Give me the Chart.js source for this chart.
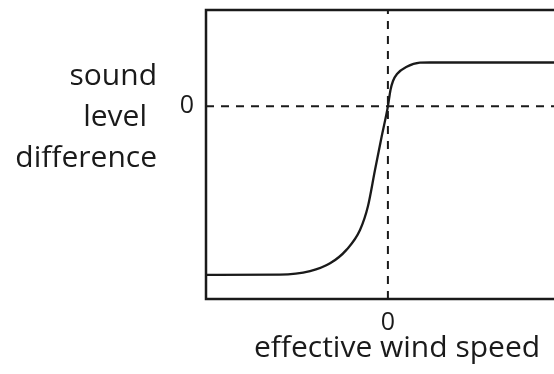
<!DOCTYPE html>
<html>
<head>
<meta charset="utf-8">
<script src="https://cdn.jsdelivr.net/npm/chart.js@4.4.1/dist/chart.umd.min.js"></script>
<style>
  html, body { margin: 0; padding: 0; background: #fff; overflow: hidden; }
  #c { display: block; }
</style>
</head>
<body>
<canvas id="c" width="620" height="374"></canvas>
<script>
// Response curve: sound level difference against effective wind speed
const windSpeed = [-5, -2.97, -2.14, -1.59, -1.14, -0.767, -0.547, -0.355, -0.17, 0, 0.071, 0.14, 0.25, 0.517, 0.88, 1.155, 5.5];
const levelDiff = [-1.75, -1.747, -1.71, -1.63, -1.49, -1.284, -1.035, -0.661, -0.31, 0, 0.169, 0.263, 0.335, 0.411, 0.453, 0.455, 0.455];

// Axis ranges and the only labelled ticks
const xRange = [-5, 5.5];
const yRange = [-2, 1];
const xTicks = [0];
const yTicks = [0];

const xTitle = 'effective wind speed';
const yTitleLines = ['sound', 'level', 'difference'];

const INK = '#1a1a1a';
const FONT = '"Open Sans", sans-serif';

const curvePoints = windSpeed.map((x, i) => ({ x: x, y: levelDiff[i] }));
const zeroVertical = [{ x: xTicks[0], y: yRange[0] }, { x: xTicks[0], y: yRange[1] }];
const zeroHorizontal = [{ x: xRange[0], y: yTicks[0] }, { x: xRange[1], y: yTicks[0] }];

// Frame around the plot area and the hand-set axis titles
const framePlugin = {
  id: 'frame',
  afterDatasetsDraw(chart) {
    const { ctx, chartArea: a } = chart;
    ctx.save();
    ctx.strokeStyle = INK;
    ctx.lineWidth = 2.5;
    ctx.strokeRect(a.left, a.top, a.right - a.left, a.bottom - a.top);
    ctx.restore();
  },
  afterDraw(chart) {
    const { ctx, chartArea: a } = chart;
    ctx.save();
    ctx.fillStyle = INK;
    ctx.font = '30px ' + FONT;
    ctx.textBaseline = 'alphabetic';
    // x title, centred under the plot
    ctx.textAlign = 'center';
    ctx.fillText(xTitle, (a.left + a.right) / 2, 357);
    // y title, stacked to the left of the plot
    ctx.textAlign = 'right';
    const insets = [0, 10, 0];
    yTitleLines.forEach((t, i) => {
      ctx.fillText(t, 157 - insets[i], 85 + i * 41);
    });
    ctx.restore();
  }
};

new Chart(document.getElementById('c'), {
  type: 'line',
  data: {
    datasets: [
      {
        data: zeroVertical,
        borderColor: INK,
        borderWidth: 2,
        borderDash: [8, 7],
        pointRadius: 0,
        tension: 0
      },
      {
        data: zeroHorizontal,
        borderColor: INK,
        borderWidth: 2,
        borderDash: [8, 7],
        pointRadius: 0,
        tension: 0
      },
      {
        data: curvePoints,
        borderColor: INK,
        borderWidth: 2.3,
        pointRadius: 0,
        cubicInterpolationMode: 'monotone',
        fill: false
      }
    ]
  },
  options: {
    responsive: false,
    animation: false,
    devicePixelRatio: 1,
    layout: { padding: { left: 0, top: 10, right: 32, bottom: 0 } },
    plugins: { legend: { display: false }, tooltip: { enabled: false } },
    scales: {
      x: {
        type: 'linear',
        min: xRange[0],
        max: xRange[1],
        grid: { display: false, drawTicks: false },
        border: { display: false },
        afterBuildTicks: s => { s.ticks = xTicks.map(v => ({ value: v })); },
        afterFit: s => { s.height = 75; s.paddingLeft = 0; s.paddingRight = 0; },
        ticks: {
          color: INK,
          font: { family: FONT, size: 25 },
          padding: 9,
          maxRotation: 0,
          callback: v => String(v)
        }
      },
      y: {
        type: 'linear',
        min: yRange[0],
        max: yRange[1],
        grid: { display: false, drawTicks: false },
        border: { display: false },
        afterBuildTicks: s => { s.ticks = yTicks.map(v => ({ value: v })); },
        afterFit: s => { s.width = 206; s.paddingTop = 0; s.paddingBottom = 0; },
        ticks: {
          color: INK,
          font: { family: FONT, size: 25 },
          padding: 12,
          callback: v => String(v)
        }
      }
    }
  },
  plugins: [framePlugin]
});
</script>
</body>
</html>
